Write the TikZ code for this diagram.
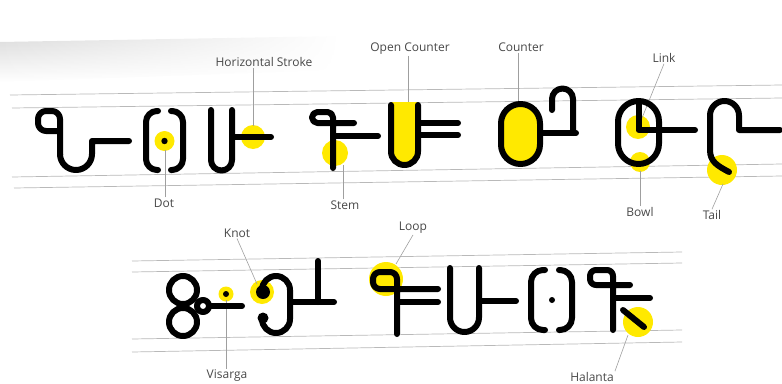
\documentclass[tikz,border=0pt]{standalone}
\usepackage{fontspec}
\setmainfont{Open Sans}
\usepackage{xcolor}
\usepackage{tikz}
\usetikzlibrary{fadings}

\definecolor{hilite}{RGB}{255,233,0}
\definecolor{labelgray}{RGB}{72,72,72}

\begin{document}
\begin{tikzpicture}[
    x=1pt, y=-1pt,
    guide/.style={draw=gray!55, line width=0.7pt},
    glyph/.style={draw=black, line width=6pt, line cap=round, line join=round},
    lbl/.style={font=\fontsize{12}{14}\selectfont, text=labelgray, inner sep=1pt},
    leader/.style={draw=gray!75, line width=0.6pt},
]
\useasboundingbox (0,0) rectangle (782,383);

% scan shadow at the top left
\shade[top color=gray!28, bottom color=white, path fading=east] (0,42) -- (340,36) -- (340,70) -- (0,82) -- cycle;

% guide lines
\draw[guide] (10,95) -- (782,85);
\draw[guide] (12,108) -- (782,98);
\draw[guide] (12,177) -- (782,164);
\draw[guide] (14,188) -- (782,176);
\draw[guide] (132,261) -- (682,252);
\draw[guide] (132,272) -- (682,263);
\draw[guide] (132,339) -- (682,330);
\draw[guide] (132,352) -- (682,342);

% highlights
\fill[hilite] (164.5,141) circle[radius=10];
\fill[hilite] (253,137) circle[radius=12];
\fill[hilite] (335,153) circle[radius=13];
\fill[hilite] (638,127) circle[radius=12];
\fill[hilite] (640,162) circle[radius=10];
\fill[hilite] (722,170) circle[radius=15];
\fill[hilite] (226,294) circle[radius=7.5];
\fill[hilite] (262,292) circle[radius=12];
\fill[hilite] (386,279) circle[radius=17];
\fill[hilite] (638,322) circle[radius=15];

% label texts
\node[lbl] (dot)     at (164,203) {Dot};
\node[lbl] (hstroke) at (264,62)  {Horizontal Stroke};
\node[lbl] (stem)    at (345,205) {Stem};
\node[lbl] (opencnt) at (410,49)  {Open Counter};
\node[lbl] (counter) at (521,47)  {Counter};
\node[lbl] (link)    at (664,58)  {Link};
\node[lbl] (bowl)    at (640,212) {Bowl};
\node[lbl] (tail)    at (712,215) {Tail};
\node[lbl] (knot)    at (237,233) {Knot};
\node[lbl] (visarga) at (227,376) {Visarga};
\node[lbl] (loop)    at (413,228) {Loop};
\node[lbl] (halanta) at (592,377) {Halanta};

% points the labels point at
\coordinate (dotP)     at (165,150);
\coordinate (hstrokeP) at (253,126);
\coordinate (stemP)    at (343,165);
\coordinate (opencntP) at (408,102);
\coordinate (counterP) at (518,101);
\coordinate (linkP)    at (642,118);
\coordinate (bowlP)    at (640,171);
\coordinate (tailP)    at (723,184);
\coordinate (knotP)    at (257,284);
\coordinate (visargaP) at (226,300);
\coordinate (loopP)    at (396,264);
\coordinate (halantaP) at (628,335);

% leaders
\draw[leader] (dot.north -| dotP) -- (dotP);
\draw[leader] (hstroke.south -| hstrokeP) -- (hstrokeP);
\draw[leader] (stem.north -| stemP) -- (stemP);
\draw[leader] (opencnt.south -| opencntP) -- (opencntP);
\draw[leader] (counter.south -| counterP) -- (counterP);
\draw[leader] (link.south) -- (linkP);
\draw[leader] (bowl.north -| bowlP) -- (bowlP);
\draw[leader] (tail.north) -- (tailP);
\draw[leader] (knot.south) -- (knotP);
\draw[leader] (visarga.north -| visargaP) -- (visargaP);
\draw[leader] (loop.south) -- (loopP);
\draw[leader] (halanta.north east) -- (halantaP);

% top row glyphs
\draw[glyph, rounded corners=8pt] (60,131) -- (38,131) -- (38,111) -- (60,111) -- (60,155);
\draw[glyph] (60,154) arc[start angle=180, end angle=0, radius=16] -- (92,141) -- (129,141);

\draw[glyph, rounded corners=11pt] (158,111) -- (146,111) -- (146,170) -- (158,170);
\draw[glyph, rounded corners=11pt] (171,111) -- (183,111) -- (183,170) -- (171,170);
\fill (164.5,141) circle[radius=3.2];

\draw[glyph] (211,110) -- (211,160) arc[start angle=180, end angle=0, radius=10.5] -- (232,110);
\draw[glyph] (232,137) -- (271,137);

\draw[glyph, rounded corners=5.5pt] (354,123) -- (312,123) -- (312,112) -- (333,112) -- (333,168);
\draw[glyph] (333,136) -- (378,136);

\fill[hilite] (391,102) -- (391,151.5) arc[start angle=180, end angle=0, radius=13.5] -- (418,102) -- cycle;
\draw[glyph] (391,105) -- (391,151.5) arc[start angle=180, end angle=0, radius=13.5] -- (418,105);
\draw[glyph] (418,123) -- (458,123);
\draw[glyph] (418,135) -- (458,135);

\filldraw[glyph, fill=hilite] (501,123.5) arc[start angle=180, end angle=360, radius=19.5]
    -- (540,144.5) arc[start angle=0, end angle=180, radius=19.5] -- cycle;
\draw[glyph] (540,133) -- (576,133);
\draw[glyph] (573,133) -- (573,99) arc[start angle=0, end angle=-180, radius=10.5] -- (552,110);

\draw[glyph] (618,121.5) arc[start angle=180, end angle=360, radius=20.5]
    -- (659,143.5) arc[start angle=0, end angle=180, radius=20.5] -- cycle;
\draw[glyph] (638.5,102) -- (638.5,130) -- (695,130);

\draw[glyph] (729,172) .. controls (718,166) and (710,162) .. (710,150) -- (710,115.5)
    arc[start angle=180, end angle=360, radius=14.5] -- (739,130) -- (780,130);

% bottom row glyphs
\draw[glyph] (183,290) circle[radius=14];
\draw[glyph] (183,322) circle[radius=14];
\draw[glyph] (203,306) circle[radius=6];
\draw[glyph] (209,306) -- (242,306);
\fill (226,294) circle[radius=3];

\fill (263,292) circle[radius=7];
\draw[glyph] (262,292) -- (262,290) arc[start angle=180, end angle=360, radius=14]
    -- (290,319) arc[start angle=0, end angle=180, radius=14] -- (262,318);
\fill (263,318) circle[radius=5.5];
\draw[glyph] (290,302) -- (334,302);
\draw[glyph] (318,261) -- (318,302);

\draw[glyph, rounded corners=7pt] (438,289) -- (373,289) -- (373,272) -- (397,272) -- (397,334);
\draw[glyph] (397,302) -- (438,302);

\draw[glyph] (450,268) -- (450,317.5) arc[start angle=180, end angle=0, radius=14.5] -- (479,268);
\draw[glyph] (479,301) -- (516,301);

\draw[glyph, rounded corners=12pt] (545,270) -- (531,270) -- (531,330) -- (545,330);
\draw[glyph, rounded corners=12pt] (559,270) -- (572,270) -- (572,330) -- (559,330);
\fill (552,300) circle[radius=3];

\draw[glyph, rounded corners=6pt] (630,285) -- (590,285) -- (590,270) -- (613,270) -- (613,330);
\draw[glyph] (613,298) -- (650,298);
\draw[glyph] (623,310) -- (644,327);
\end{tikzpicture}
\end{document}
